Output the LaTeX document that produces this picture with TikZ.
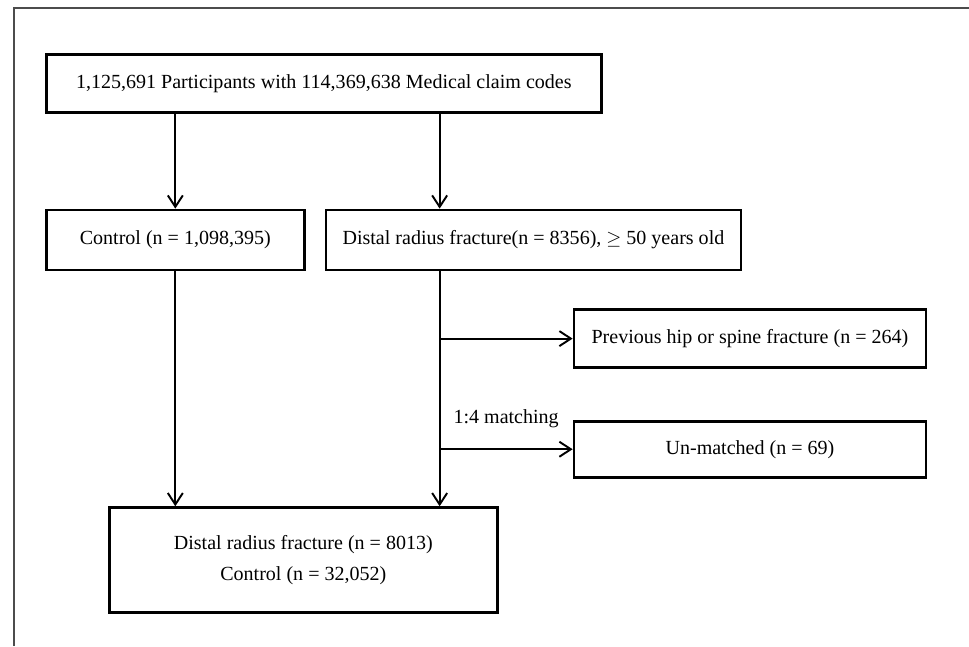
\documentclass[tikz,border=0pt]{standalone}
\usepackage{fontspec}
\setmainfont{Liberation Serif}
\usetikzlibrary{positioning, arrows.meta, calc}

\begin{document}
\begin{tikzpicture}[
    box/.style={draw, rectangle, line width=1.5pt, minimum height=1.2cm, align=center, inner sep=2pt,
        font=\fontsize{11.4pt}{16pt}\selectfont},
    arr/.style={-{Straight Barb[length=2.3mm, width=3mm]}, line width=1.1pt}
]
    \useasboundingbox (0,0) rectangle (19.38,-12.92);
    \draw[gray!60!black, line width=0.8pt] (0.28,-12.92) |- (19.38,-0.16);

    \node[box, minimum width=11.1cm, minimum height=1.16cm, anchor=north west] (parts) at (0.9,-1.06) {1,125,691 Participants with 114,369,638 Medical claim codes};
    \node[box, minimum width=5.16cm, below=1.9cm of parts.south west, anchor=north west] (ctrl) {Control (n = 1,098,395)};
    \node[box, minimum width=8.3cm, right=0.38cm of ctrl.north east, anchor=north west] (drf) {Distal radius fracture(n = 8356), $\geq$ 50 years old};
    \node[box, minimum width=7.04cm, minimum height=1.16cm, below right=0.74cm and 4.96cm of drf.south west, anchor=north west] (prev) {Previous hip or spine fracture (n = 264)};
    \node[box, minimum width=7.04cm, minimum height=1.12cm, below=1.02cm of prev.south west, anchor=north west] (unmatched) {Un-matched (n = 69)};
    \node[box, minimum width=7.76cm, minimum height=2.1cm, below right=4.7cm and 1.26cm of ctrl.south west, anchor=north west] (final) {Distal radius fracture (n = 8013)\\[0.07cm]Control (n = 32,052)};

    \coordinate (fork) at ($(drf.south west)+(2.3,0)$);

    \draw[arr] (parts.south -| ctrl) -- (ctrl.north);
    \draw[arr] (parts.south -| fork) -- (drf.north -| fork);
    \draw[arr] (ctrl.south) -- (final.north -| ctrl);
    \draw[arr] (fork) -- (final.north -| fork);
    \draw[arr] (fork |- prev.west) -- (prev.west);
    \draw[arr] (fork |- unmatched.west) -- (unmatched.west)
        node[midway, above=0.3cm, font=\fontsize{11.4pt}{14pt}\selectfont] {1:4 matching};
\end{tikzpicture}
\end{document}
